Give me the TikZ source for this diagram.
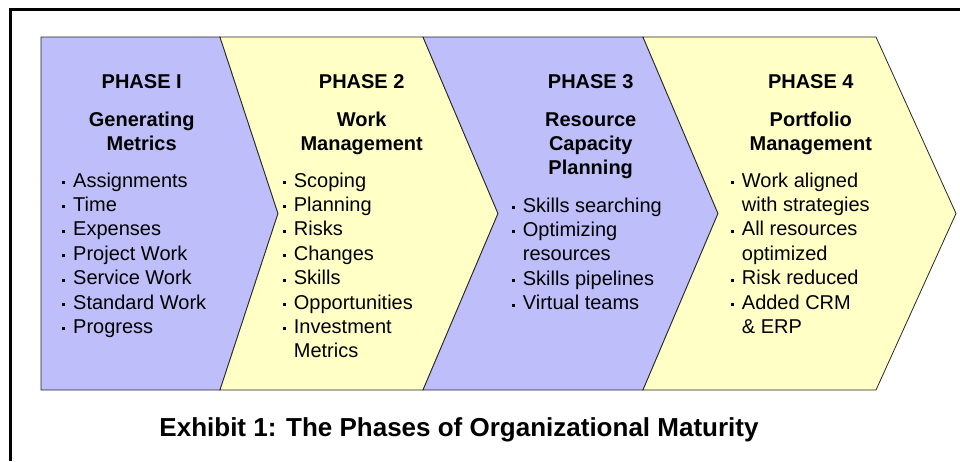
\documentclass[tikz,border=0pt]{standalone}
\usepackage{fontspec}
\setmainfont{Liberation Sans}
\definecolor{phaseblue}{RGB}{190,190,250}
\definecolor{phaseyellow}{RGB}{255,255,198}
% small square bullet, and the same gap without it for wrapped lines
\newcommand{\sq}{\rule[3pt]{3pt}{3pt}\hspace{8pt}}
\newcommand{\nosq}{\hspace{11pt}}
\tikzset{phase/.style={draw=black!85, line width=0.8pt, line join=miter},
head/.style={font=\fontsize{20}{24.4}\selectfont\bfseries, anchor=base, inner sep=0pt},
item/.style={font=\fontsize{20}{24.4}\selectfont, anchor=base west, inner sep=0pt}}

\begin{document}
\begin{tikzpicture}[x=1pt,y=-1pt]
\useasboundingbox (0,0) rectangle (960,461);
% frame
\draw[line width=3pt] (10,461) -- (10,9.5) -- (960,9.5);

% chevrons
\foreach \l/\lt/\r/\rt/\col in {41/41/220/278/phaseblue, 220/278/423/498/phaseyellow,
    423/498/643/718/phaseblue, 643/718/876/956/phaseyellow}
  \filldraw[phase, fill=\col] (\l,37) -- (\r,37) -- (\rt,213.5) -- (\r,390)
    -- (\l,390) -- (\lt,213.5) -- cycle;

% headings
\foreach \x/\t [count=\i] in {141.7/PHASE I, 361.7/PHASE 2, 590.7/PHASE 3, 810.8/PHASE 4}
  \node[head] (phase\i) at (\x,88) {\t};
\foreach \x/\y/\t [count=\i] in {141.7/126/Generating, 141.7/150.4/Metrics,
    361.7/126/Work, 361.7/150.4/Management,
    590.7/126/Resource, 590.7/150.4/Capacity, 590.7/174.8/Planning,
    810.8/126/Portfolio, 810.8/150.4/Management}
  \node[head] (title\i) at (\x,\y) {\t};

% bullet lists
\foreach \t [count=\i] in {Assignments, Time, Expenses, Project Work, Service Work,
    Standard Work, Progress}
  \node[item] (m1-\i) at (62,{162.6+24.4*\i}) {\sq\t};
\foreach \b/\t [count=\i] in {\sq/Scoping, \sq/Planning, \sq/Risks, \sq/Changes,
    \sq/Skills, \sq/Opportunities, \sq/Investment, \nosq/Metrics}
  \node[item] (m2-\i) at (282.7,{162.6+24.4*\i}) {\b\t};
\foreach \b/\t [count=\i] in {\sq/Skills searching, \sq/Optimizing, \nosq/resources,
    \sq/Skills pipelines, \sq/Virtual teams}
  \node[item] (m3-\i) at (511.7,{187.6+24.4*\i}) {\b\t};
\foreach \b/\t [count=\i] in {\sq/Work aligned, \nosq/with strategies, \sq/All resources,
    \nosq/optimized, \sq/Risk reduced, \sq/Added CRM, \nosq/\& ERP}
  \node[item] (m4-\i) at (730.7,{162.6+24.4*\i}) {\b\t};

% caption
\node[font=\fontsize{26}{30}\selectfont\bfseries, anchor=base] (caption) at (459,436)
  {Exhibit 1: The Phases of Organizational Maturity};
\end{tikzpicture}
\end{document}
